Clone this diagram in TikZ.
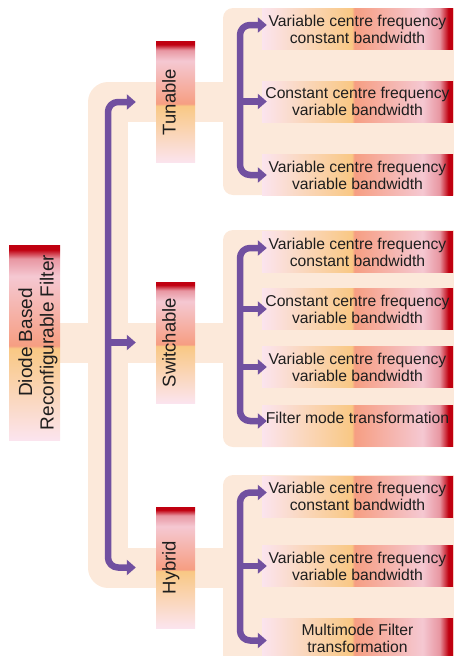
\documentclass[tikz,border=0pt]{standalone}
\usepackage{fontspec}
\setmainfont{Liberation Sans}
\usepackage{graphicx}
\usetikzlibrary{arrows.meta, backgrounds, calc}
\definecolor{peach}{HTML}{FCE9DA}
\definecolor{purp}{HTML}{7150A0}
\definecolor{shLight}{HTML}{FBE4EE}
\definecolor{shOrange}{HTML}{F9C884}
\definecolor{shSalmon}{HTML}{F69E82}
\definecolor{shPink}{HTML}{F5C8D2}
\definecolor{shRed}{HTML}{C00010}
\definecolor{txt}{HTML}{1E1E1E}
\pgfdeclarehorizontalshading{boxshade}{100bp}{color(0bp)=(shLight); color(25bp)=(shLight); color(48.5bp)=(shOrange); color(49.2bp)=(shSalmon); color(67bp)=(shPink); color(71.5bp)=(shPink!75!shRed); color(73.8bp)=(shRed); color(75bp)=(shRed); color(100bp)=(shRed)}
\newcommand\vlabel[1]{\rotatebox{90}{#1\rule[-13pt]{0pt}{13pt}}}

\begin{document}
\begin{tikzpicture}[line cap=round,line join=round,>={Triangle[length=9pt,width=15pt]},x=1pt,y=-1pt,
    leaf/.style={shading=boxshade, minimum width=191pt, minimum height=41pt, inner sep=0pt, align=center, text=txt, font=\fontsize{15.7}{17}\selectfont},
    cat/.style={shading=boxshade, shading angle=90, minimum width=39pt, minimum height=121pt, inner sep=0pt, text=txt, font=\fontsize{18.5}{22}\selectfont},
    band/.style={draw=peach, line width=40pt, line cap=butt, line join=round},
    grp/.style={fill=peach, rounded corners=10pt},
    link/.style={draw=purp, line width=6.5pt, line cap=butt, rounded corners=10pt}]
    \useasboundingbox (0,0) rectangle (453,656);
    \node[cat, minimum width=49pt, minimum height=195pt, font=\fontsize{19}{21.5}\selectfont] (root) at (34.5,342.5) {\hspace*{8pt}\rotatebox{90}{\begin{tabular}{@{}c@{}}Diode Based\\Reconfigurable Filter\end{tabular}}};
    \node[cat] (tun) at (175.5,102) {\vlabel{Tunable}};
    \node[cat] (swi) at (175.5,342.5) {\vlabel{Switchable}};
    \node[cat] (hyb) at (175.5,567.5) {\vlabel{Hybrid}};
    \node[leaf] (t1) at (357.5,29) {Variable centre frequency\\constant bandwidth};
    \node[leaf] (t2) at (357.5,101.5) {Constant centre frequency\\variable bandwidth};
    \node[leaf] (t3) at (357.5,175) {Variable centre frequency\\variable bandwidth};
    \node[leaf] (s1) at (357.5,252) {Variable centre frequency\\constant bandwidth};
    \node[leaf] (s2) at (357.5,309) {Constant centre frequency\\variable bandwidth};
    \node[leaf] (s3) at (357.5,367) {Variable centre frequency\\variable bandwidth};
    \node[leaf, text height=11pt, text depth=16.5pt] (s4) at (357.5,426) {Filter mode transformation};
    \node[leaf] (h1) at (357.5,496.5) {Variable centre frequency\\constant bandwidth};
    \node[leaf] (h2) at (357.5,566) {Variable centre frequency\\variable bandwidth};
    \node[leaf] (h3) at (357.5,638.5) {Multimode Filter\\transformation};
    \coordinate (mainfork) at (108,342.5);
    \coordinate (tfork) at (240,101.5);
    \coordinate (sfork) at (240,342.5);
    \coordinate (hfork) at (240,566);
    \begin{scope}[on background layer]
        \fill[grp] (223,8) rectangle (463,195);
        \fill[grp] (223,230) rectangle (463,447);
        \fill[grp] (223,475) rectangle (463,680);
        \draw[band] (t2.west |- tun.center) -| (mainfork) |- (h2.west |- hyb.center);
        \draw[band] (root.center) -- (s2.west |- root.center);
    \end{scope}
    \draw[link,<->] ([xshift=-20pt]tun.west) -| (mainfork) |- ([xshift=-20pt]hyb.west);
    \draw[link,->] (mainfork) -- ([xshift=-20pt]swi.west);
    \draw[link,<->] ([xshift=5pt,yshift=4pt]t1.west) -| (tfork) |- ([xshift=5pt]t3.west);
    \draw[link,->] (tfork) -- ([xshift=5pt]t2.west);
    \draw[link,<->] ([xshift=5pt,yshift=4pt]s1.west) -| (sfork) |- ([xshift=5pt,yshift=5pt]s4.west);
    \draw[link,->] (sfork |- s2.west) -- ([xshift=5pt]s2.west);
    \draw[link,->] (sfork |- s3.west) -- ([xshift=5pt]s3.west);
    \draw[link,<->] ([xshift=5pt,yshift=4pt]h1.west) -| (hfork) |- ([xshift=5pt,yshift=-2pt]h3.west);
    \draw[link,->] (hfork) -- ([xshift=5pt]h2.west);
\end{tikzpicture}
\end{document}
